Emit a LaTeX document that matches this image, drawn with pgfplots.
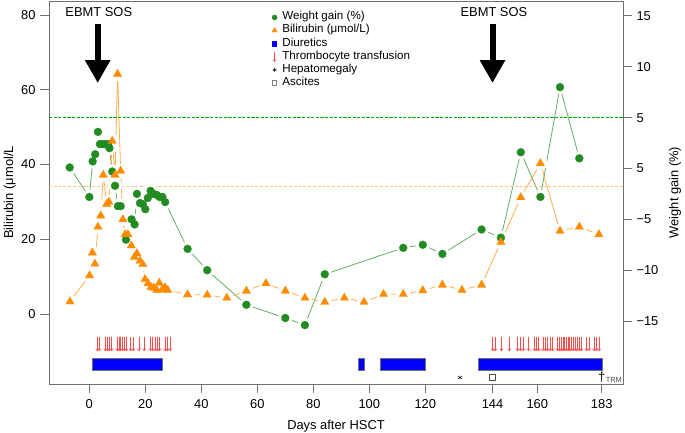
\documentclass[border=0pt]{standalone}
\usepackage{pgfplots}
\pgfplotsset{compat=1.18}
\usepackage{pgfplotstable}
\usepackage{fontspec}
\setmainfont{Liberation Sans}
\usetikzlibrary{arrows.meta}

\definecolor{gpt}{HTML}{228B22}
\definecolor{gline}{HTML}{62AE62}
\definecolor{opt}{HTML}{FF8C00}
\definecolor{oline}{HTML}{FFAF4D}
\definecolor{refgreen}{RGB}{0,170,0}
\definecolor{odash}{HTML}{FFC27F}
\definecolor{tfred}{HTML}{FF4A4A}
\definecolor{framegray}{HTML}{707070}

\newcommand\fsmain{\fontsize{12.9bp}{15bp}\selectfont}
\newcommand\fsleg{\fontsize{11.6bp}{13.2bp}\selectfont}
\newcommand\fstrm{\fontsize{7.4bp}{8bp}\selectfont}

\def\Lmin{-18.73}
\def\Lmax{83.75}
\def\Rmin{-21.19}
\def\Rmax{16.47}
\def\kk{2.72119}
\def\Xmin{-14.39}
\def\Xmax{190.6}

% weight gain (%)
\pgfplotstableread{
day w
-7.0 0.1
0.0 -2.8
1.2 0.7
2.1 1.4
3.1 3.6
3.8 2.4
4.6 2.4
5.6 2.4
6.7 2.4
7.2 2.0
8.2 -0.3
9.2 -1.7
10.2 -3.7
11.2 -3.7
13.1 -7.0
15.1 -5.0
16.2 -5.5
17.0 -2.5
18.1 -3.4
19.1 -3.5
20.0 -4.0
20.9 -2.9
21.9 -2.2
23.0 -2.5
24.1 -2.6
25.1 -2.8
26.1 -2.8
27.1 -3.3
35.1 -7.9
42.1 -10.0
56.1 -13.4
70.0 -14.7
77.0 -15.4
84.1 -10.4
112.1 -7.8
119.1 -7.5
126.1 -8.4
140.1 -6.0
147.0 -6.8
154.1 1.6
161.1 -2.8
168.1 8.0
175.0 1.0
}\weight

% bilirubin (umol/L)
\pgfplotstableread{
day b
-6.9 3.3
0.1 10.3
1.1 16.4
2.0 13.4
3.1 23.3
4.1 26.3
5.0 37.2
6.2 29.4
7.0 30.0
8.2 46.3
9.2 37.2
10.1 64.2
11.2 38.3
12.0 25.3
12.8 21.3
13.8 21.3
15.0 18.3
16.1 15.2
17.0 16.2
18.1 14.2
19.1 13.3
19.9 9.3
21.0 8.2
22.0 7.2
23.0 7.0
24.1 6.4
25.0 8.3
26.0 6.5
27.0 7.1
28.0 6.4
35.1 5.2
42.1 5.1
49.1 4.3
56.1 6.2
63.1 8.2
70.0 6.2
77.0 4.3
84.1 3.2
91.1 4.3
98.1 3.2
105.1 5.3
112.1 5.3
119.1 6.3
126.1 7.8
133.1 6.4
140.1 7.8
147.0 19.2
154.1 31.2
161.1 40.3
168.1 22.2
175.0 23.3
182.0 21.3
}\bili

% thrombocyte transfusions (day, arrow start)
\pgfplotstableread{
day y
2.9 -6.05
3.6 -6.05
5.8 -6.05
6.6 -6.05
7.3 -6.05
8.0 -6.05
10.0 -6.05
10.6 -6.05
11.2 -6.05
11.9 -6.05
12.6 -6.05
13.2 -6.05
14.8 -6.05
15.7 -6.05
17.7 -6.05
19.6 -6.05
21.9 -6.05
22.6 -6.05
23.5 -6.05
24.3 -6.05
25.0 -6.05
27.1 -6.05
27.9 -6.05
28.8 -6.05
144.1 -6.05
144.9 -6.05
147.2 -6.05
150.0 -6.05
153.0 -6.05
154.0 -6.05
155.1 -6.05
156.9 -6.05
159.0 -6.05
159.7 -6.05
160.5 -6.05
162.0 -6.05
162.9 -6.05
163.7 -6.05
164.5 -6.05
165.5 -6.05
167.2 -6.05
167.9 -6.05
168.4 -6.05
169.1 -6.05
169.6 -6.05
170.3 -6.05
170.9 -6.05
171.4 -6.05
172.0 -6.05
172.9 -6.05
173.5 -6.05
174.1 -6.05
175.0 -6.05
175.7 -6.05
177.6 -6.05
178.4 -6.05
180.3 -6.05
181.0 -6.05
182.1 -6.05
}\transf

\begin{document}
\fsmain
\begin{tikzpicture}
\useasboundingbox (0,0) rectangle (685bp,433bp);
\begin{axis}[
  at={(49bp,49bp)}, anchor=south west,
  scale only axis, width=574bp, height=383bp,
  xmin=\Xmin, xmax=\Xmax, ymin=\Lmin, ymax=\Lmax,
  axis line style={framegray, line width=0.9bp},
  tick style={framegray, line width=0.9bp},
  tick align=outside, major tick length=9bp,
  xtick pos=left, ytick pos=left,
  xtick={0,20,40,60,80,100,120,144,160,183},
  xticklabels={0,20,40,60,80,100,120,144,160,183},
  ytick={0,20,40,60,80},
  /pgf/number format/assume math mode=true,
  tick label style={font=\fsmain},
  xticklabel style={yshift=-2bp},
  label style={font=\fsmain},
  xlabel={Days after HSCT},
  xlabel style={at={(axis description cs:0.5,-0.110)}, anchor=center},
  ylabel={Bilirubin (μmol/L},
  ylabel style={at={(axis description cs:-0.0685,0.5)}, anchor=center},
  legend cell align=left,
  legend style={at={(axis cs:65.1,81.1)}, anchor=north west, draw=none, fill=none,
    inner sep=0pt, outer sep=0pt, row sep=0pt, font=\fsleg,
    nodes={inner sep=0pt, text height=9bp, text depth=4.1bp},
    /tikz/every odd column/.append style={column sep=4.8bp}},
]
% connecting lines
\addplot[gline, line width=0.8bp, forget plot] table[x=day, y expr={\Lmin+(\thisrow{w}-\Rmin)*\kk}] {\weight};
\addplot[oline, line width=0.8bp, forget plot] table[x=day, y=b] {\bili};
% gaps around points (type "b")
\addplot[only marks, mark=*, mark size=7.0bp, mark options={fill=white, draw=white, line width=0.1bp}, forget plot] table[x=day, y expr={\Lmin+(\thisrow{w}-\Rmin)*\kk}] {\weight};
\addplot[only marks, mark=*, mark size=6.8bp, mark options={fill=white, draw=white, line width=0.1bp}, forget plot] table[x=day, y=b] {\bili};
% reference line: bilirubin 34 umol/L
\addplot[odash, line width=1.2bp, dash pattern=on 3bp off 1.8bp, forget plot] coordinates {(\Xmin,34.2) (\Xmax,34.2)};
% diuretics
\addplot[fill=blue, draw=framegray, line width=0.8bp, forget plot] coordinates {(1.1,-15.05) (26.1,-15.05) (26.1,-11.95) (1.1,-11.95)} -- cycle;
\addplot[fill=blue, draw=framegray, line width=0.8bp, forget plot] coordinates {(96.1,-15.05) (98.2,-15.05) (98.2,-11.95) (96.1,-11.95)} -- cycle;
\addplot[fill=blue, draw=framegray, line width=0.8bp, forget plot] coordinates {(104.1,-15.05) (120.1,-15.05) (120.1,-11.95) (104.1,-11.95)} -- cycle;
\addplot[fill=blue, draw=framegray, line width=0.8bp, forget plot] coordinates {(138.9,-15.05) (183.4,-15.05) (183.4,-11.95) (138.9,-11.95)} -- cycle;
% thrombocyte transfusions
\addplot[tfred, line width=0.6bp, quiver={u=0, v=-3.85}, -{To[length=2.5bp,width=4bp]}, forget plot] table[x=day, y=y] {\transf};
% hepatomegaly, ascites, death
\addplot[only marks, mark=asterisk, mark size=2.6bp, black, forget plot] coordinates {(132.4,-17.0)};
\addplot[only marks, mark=square, mark size=3bp, black!70, line width=0.8bp, forget plot] coordinates {(143.9,-17.0)};
\addplot[only marks, mark=text, text mark={\fontsize{13bp}{13bp}\selectfont †}, forget plot] coordinates {(183,-17.0)};
\node[anchor=west, font=\fstrm, inner sep=0pt, text=black!70] at (axis cs:184.4,-17.66) {TRM};
% EBMT SOS arrows
\addplot[black, line width=6bp, -{Triangle[width=24bp,length=23bp]}, forget plot] coordinates {(3.0,77.7) (3.0,61.8)};
\addplot[black, line width=6bp, -{Triangle[width=24bp,length=23bp]}, forget plot] coordinates {(144.0,77.7) (144.0,61.8)};
\node[font=\fsmain] at (axis cs:3.4,80.8) {EBMT SOS};
\node[font=\fsmain] at (axis cs:144.5,80.8) {EBMT SOS};
% markers
\addplot[only marks, mark=*, mark size=4.0bp, mark options={fill=gpt, draw=gpt, line width=0.2bp}, forget plot] table[x=day, y expr={\Lmin+(\thisrow{w}-\Rmin)*\kk}] {\weight};
\addplot[only marks, mark=triangle*, mark size=4.9bp, mark options={fill=opt, draw=opt, line width=0.2bp}, forget plot] table[x=day, y=b] {\bili};
% legend
\addlegendimage{legend image code/.code={\path[draw=none, fill=none] (-3bp,-3bp) rectangle (3bp,3bp); \fill[gpt] (0,0) circle (2.5bp);}}
\addlegendentry{Weight gain (\%)}
\addlegendimage{legend image code/.code={\path[draw=none, fill=none] (-3bp,-3bp) rectangle (3bp,3bp); \fill[opt] (90:3bp) -- (210:3bp) -- (330:3bp) -- cycle;}}
\addlegendentry{Bilirubin (μmol/L)}
\addlegendimage{legend image code/.code={\path[draw=none, fill=none] (-3bp,-3bp) rectangle (3bp,3bp); \fill[blue] (-2.1bp,-2.1bp) rectangle (2.1bp,2.1bp);}}
\addlegendentry{Diuretics}
\addlegendimage{legend image code/.code={\path[draw=none, fill=none] (-3bp,-3bp) rectangle (3bp,3bp); \draw[tfred, line width=0.6bp, -{To[length=2.5bp,width=4bp]}] (0,5bp) -- (0,-5bp);}}
\addlegendentry{Thrombocyte transfusion}
\addlegendimage{legend image code/.code={\path[draw=none, fill=none] (-3bp,-3bp) rectangle (3bp,3bp); \draw[black] plot[mark=asterisk, mark size=2.2bp] coordinates {(0,0)};}}
\addlegendentry{Hepatomegaly}
\addlegendimage{legend image code/.code={\path[draw=none, fill=none] (-3bp,-3bp) rectangle (3bp,3bp); \draw[black!50, line width=0.7bp, fill=none] (-2.1bp,-2.1bp) rectangle (2.1bp,2.1bp);}}
\addlegendentry{Ascites}
\end{axis}
\begin{axis}[
  at={(49bp,49bp)}, anchor=south west,
  scale only axis, width=574bp, height=383bp,
  xmin=\Xmin, xmax=\Xmax, ymin=\Rmin, ymax=\Rmax,
  hide x axis, axis y line*=right,
  axis line style={framegray, line width=0.9bp},
  tick style={framegray, line width=0.9bp},
  tick align=outside, major tick length=9bp,
  ytick={-15,-10,-5,0,5,10,15},
  yticklabels={−15,−10,−5,5,5,10,15},
  /pgf/number format/assume math mode=true,
  tick label style={font=\fsmain},
  label style={font=\fsmain},
  ylabel={Weight gain (\%)},
  ylabel style={at={(axis description cs:1.0906,0.5)}, anchor=center},
]
% reference line: weight gain 5 %
\addplot[draw=refgreen, line width=1.5bp, dash pattern=on 3.2bp off 1.4bp, no marks, forget plot] coordinates {(\Xmin,5) (\Xmax,5)};
\end{axis}
\end{tikzpicture}
\end{document}
